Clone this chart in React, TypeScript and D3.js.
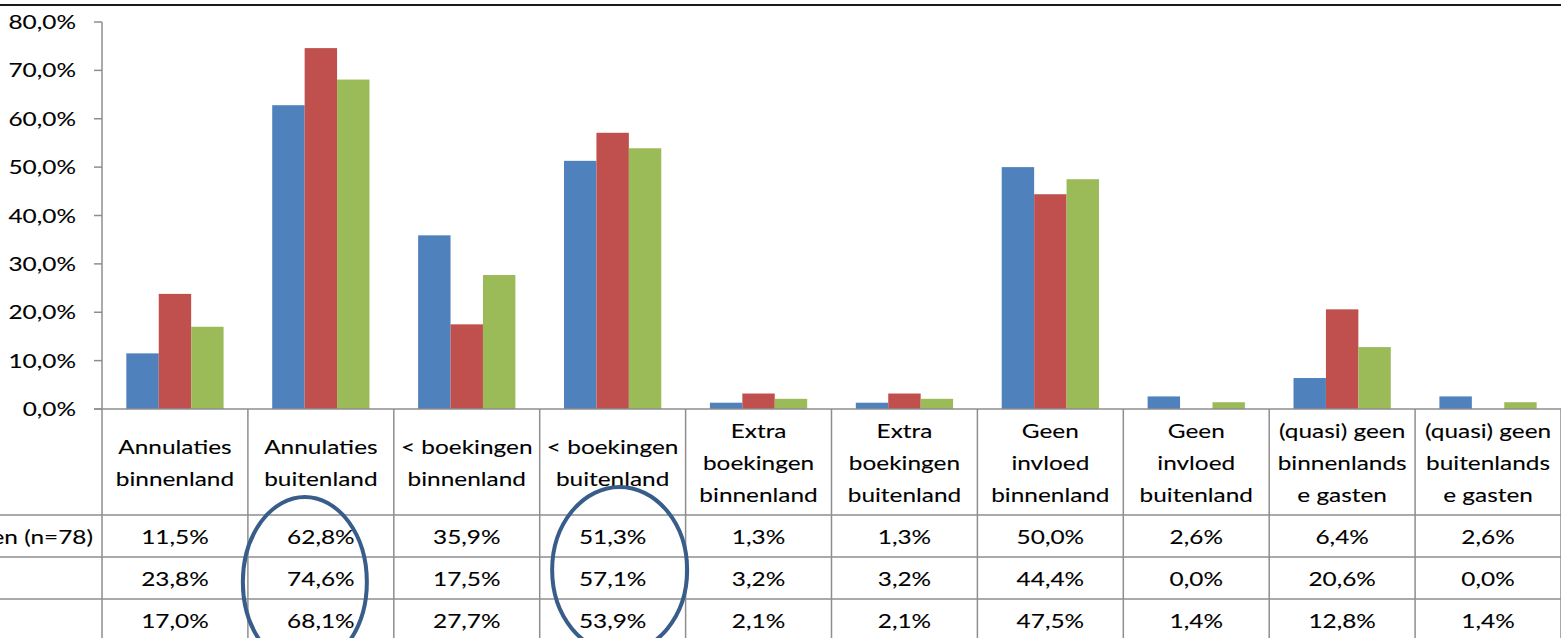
import React from 'react';
import * as d3 from 'd3';

// categorieën (kolomkoppen van de datatabel)
const categories: string[][] = [
    ['Annulaties', 'binnenland'],
    ['Annulaties', 'buitenland'],
    ['< boekingen', 'binnenland'],
    ['< boekingen', 'buitenland'],
    ['Extra', 'boekingen', 'binnenland'],
    ['Extra', 'boekingen', 'buitenland'],
    ['Geen', 'invloed', 'binnenland'],
    ['Geen', 'invloed', 'buitenland'],
    ['(quasi) geen', 'binnenlands', 'e gasten'],
    ['(quasi) geen', 'buitenlands', 'e gasten'],
];

const seriesA = [11.5, 62.8, 35.9, 51.3, 1.3, 1.3, 50.0, 2.6, 6.4, 2.6];
const seriesB = [23.8, 74.6, 17.5, 57.1, 3.2, 3.2, 44.4, 0.0, 20.6, 0.0];
const seriesC = [17.0, 68.1, 27.7, 53.9, 2.1, 2.1, 47.5, 1.4, 12.8, 1.4];

const rowLabels = ['en (n=78)', '', ''];
const yTicks = [0, 10, 20, 30, 40, 50, 60, 70, 80];
const highlighted = [1, 3]; // omcirkelde kolommen

const colors = ['#4F81BD', '#C0504D', '#9BBB59'];

const W = 1561;
const H = 638;
const plotLeft = 102;
const plotTop = 22;
const plotBottom = 409;
const headerH = 106;
const rowH = 42;
const font = 'Lato, "Open Sans", sans-serif';
const fs = 20;
const sx = 1.22; // tekst is horizontaal uitgerekt in het origineel

const fmt = (v: number) => d3.format('.1f')(v).replace('.', ',') + '%';

const App: React.FC = () => {
    const series = [seriesA, seriesB, seriesC];
    const idx = categories.map((_, i) => i);

    const x0 = d3.scaleBand<number>().domain(idx).range([plotLeft, W]).padding(0);
    const x1 = d3.scaleBand<number>().domain([0, 1, 2]).range([0, x0.bandwidth()]).paddingOuter(0.75).paddingInner(0);
    const y = d3.scaleLinear().domain([0, 80]).range([plotBottom, plotTop]);

    const tableTop = plotBottom;
    const rowsTop = tableTop + headerH;
    const grid = '#8E8E8E';

    const T = (props: {x: number, y: number, anchor?: string, children: React.ReactNode}) => (
        <text transform={`translate(${props.x},${props.y}) scale(${sx},1)`}
              textAnchor={props.anchor || 'middle'} fontFamily={font} fontSize={fs} fill="#000"
              stroke="#000" strokeWidth={0.1}>
            {props.children}
        </text>
    );

    return (
        <svg width={W} height={H} style={{position: 'absolute', left: 0, top: 0, background: '#fff'}}>
            {/* lijn bovenaan */}
            <line x1={0} x2={W} y1={5} y2={5} stroke="#1a1a1a" strokeWidth={2}/>

            {/* y-as */}
            <line x1={plotLeft} x2={plotLeft} y1={y(80)} y2={H} stroke={grid} strokeWidth={1.5}/>
            {yTicks.map(t => (
                <g key={t}>
                    <line x1={plotLeft - 8} x2={plotLeft} y1={y(t)} y2={y(t)} stroke={grid} strokeWidth={1.5}/>
                    <T x={76} y={y(t) + 7} anchor="end">{fmt(t)}</T>
                </g>
            ))}

            {/* staven */}
            {idx.map(i => (
                <g key={i} transform={`translate(${x0(i)},0)`}>
                    {series.map((s, j) => (
                        <rect key={j} x={x1(j)} width={x1.bandwidth()} y={y(s[i])}
                              height={y(0) - y(s[i])} fill={colors[j]}/>
                    ))}
                </g>
            ))}

            {/* datatabel */}
            <line x1={plotLeft - 8} x2={W} y1={tableTop} y2={tableTop} stroke={grid} strokeWidth={1.5}/>
            {[0, 1, 2].map(r => (
                <line key={r} x1={0} x2={W} y1={rowsTop + r * rowH} y2={rowsTop + r * rowH}
                      stroke={grid} strokeWidth={1.5}/>
            ))}
            {idx.map(i => (
                <line key={i} x1={x0(i)! + x0.bandwidth()} x2={x0(i)! + x0.bandwidth()} y1={tableTop} y2={H}
                      stroke={grid} strokeWidth={1.5}/>
            ))}
            {categories.map((lines, i) => {
                const cx = x0(i)! + x0.bandwidth() / 2;
                const mid = tableTop + headerH / 2 + 8;
                const lh = 32;
                return lines.map((l, k) => (
                    <T key={`${i}-${k}`} x={cx} y={mid + (k - (lines.length - 1) / 2) * lh}>{l}</T>
                ));
            })}
            {series.map((s, r) => (
                <g key={r}>
                    <T x={93} y={rowsTop + r * rowH + rowH / 2 + 8} anchor="end">{rowLabels[r]}</T>
                    {s.map((v, i) => (
                        <T key={i} x={x0(i)! + x0.bandwidth() / 2} y={rowsTop + r * rowH + rowH / 2 + 8}>{fmt(v)}</T>
                    ))}
                </g>
            ))}

            {/* handgetekende ellipsen */}
            {highlighted.map((c, k) => {
                const cx = x0(c)! + x0.bandwidth() / 2 + (k === 0 ? -16 : 7);
                const cy = k === 0 ? 582 : 570;
                return (
                    <ellipse key={c} cx={cx} cy={cy} rx={k === 0 ? 62 : 67.5} ry={k === 0 ? 85 : 83}
                             fill="none" stroke="#385D8A" strokeWidth={4}/>
                );
            })}
        </svg>
    );
};

export default App;
